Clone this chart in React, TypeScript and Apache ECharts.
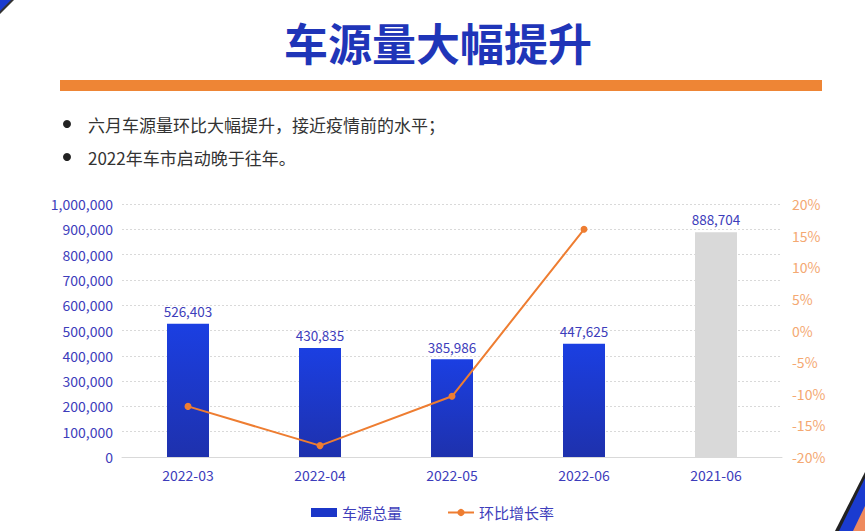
import React, { useEffect, useRef } from "react";
import * as echarts from "echarts";

const categories = ["2022-03", "2022-04", "2022-05", "2022-06", "2021-06"];
const volumes = [526403, 430835, 385986, 447625, 888704];
const momRates = [-12.0, -18.2, -10.4, 16.0, null];
const leftTicks = { min: 0, max: 1000000, interval: 100000 };
const rightTicks = { min: -20, max: 20, interval: 5 };
const titleText = "车源量大幅提升";
const bullets = ["六月车源量环比大幅提升，接近疫情前的水平；", "2022年车市启动晚于往年。"];
const seriesNames = ["车源总量", "环比增长率"];

const FONT = "'Noto Sans CJK SC', 'Noto Sans', sans-serif";
const LABEL_BLUE = "#3d3dbb";

export default function App() {
  const ref = useRef<HTMLDivElement>(null);
  useEffect(() => {
    document.body.style.margin = "0";
    const chart = echarts.init(ref.current!, null, { renderer: "svg" });
    const barGrad = new echarts.graphic.LinearGradient(0, 0, 0, 1, [
      { offset: 0, color: "#1b3fe2" },
      { offset: 1, color: "#1e31ad" },
    ]);
    const option: any = {
      animation: false,
      textStyle: { fontFamily: FONT },
      graphic: [
        { type: "polygon", shape: { points: [[0, 0], [14, 0], [0, 14]] }, style: { fill: "#333" } },
        { type: "polygon", shape: { points: [[0, 0], [11, 0], [0, 11]] }, style: { fill: "#1a3bd0" } },
        { type: "polygon", shape: { points: [[835, 531], [865, 472], [865, 531]] }, style: { fill: "#222" } },
        { type: "polygon", shape: { points: [[839, 531], [865, 478], [865, 531]] }, style: { fill: "#1a3bd0" } },
        { type: "polygon", shape: { points: [[853, 531], [865, 506], [865, 531]] }, style: { fill: "#ee8a5e" } },
        {
          type: "text", x: 438, y: 20,
          style: { text: titleText, fill: "#1f35b8", font: `bold 44px ${FONT}`, textAlign: "center" },
        },
        { type: "rect", shape: { x: 60, y: 80, width: 762, height: 11 }, style: { fill: "#ee8535" } },
        ...bullets.flatMap((b, i) => [
          { type: "circle", shape: { cx: 67, cy: 124 + i * 33, r: 4 }, style: { fill: "#222" } },
          {
            type: "text", x: 88, y: 124 + i * 33,
            style: { text: b, fill: "#333", font: `17px ${FONT}`, verticalAlign: "middle" },
          },
        ]),
      ],
      legend: {
        bottom: 6, left: "center", itemGap: 45, itemWidth: 26, itemHeight: 9,
        textStyle: { color: LABEL_BLUE, fontSize: 15, fontFamily: FONT },
        data: [
          { name: seriesNames[0], icon: "rect", itemStyle: { color: "#1b36c8" } },
          { name: seriesNames[1] },
        ],
      },
      grid: { left: 122, right: 83, top: 204, bottom: 74 },
      xAxis: {
        type: "category", data: categories,
        axisLine: { lineStyle: { color: "#d9d9d9", width: 1 } },
        axisTick: { show: false },
        axisLabel: { color: LABEL_BLUE, fontSize: 14, margin: 11, fontFamily: FONT },
      },
      yAxis: [
        {
          type: "value", ...leftTicks,
          axisLine: { show: false }, axisTick: { show: false },
          splitLine: { lineStyle: { color: "#d9d9d9", type: [2, 2] } },
          axisLabel: {
            color: LABEL_BLUE, fontSize: 14, margin: 9, fontFamily: FONT,
            formatter: (v: number) => v.toLocaleString("en-US"),
          },
        },
        {
          type: "value", ...rightTicks,
          axisLine: { show: false }, axisTick: { show: false },
          splitLine: { show: false },
          axisLabel: { color: "#f4a872", fontSize: 14, margin: 10, fontFamily: FONT, formatter: "{value}%" },
        },
      ],
      series: [
        {
          name: seriesNames[0], type: "bar", barWidth: 42, yAxisIndex: 0,
          data: volumes.map((v, i) => ({
            value: v,
            itemStyle: { color: i === volumes.length - 1 ? "#d9d9d9" : barGrad },
          })),
          label: {
            show: true, position: "top", distance: 6, color: LABEL_BLUE, fontSize: 13.5, fontFamily: FONT,
            formatter: (p: any) => Number(p.value).toLocaleString("en-US"),
          },
        },
        {
          name: seriesNames[1], type: "line", yAxisIndex: 1, data: momRates,
          symbol: "circle", symbolSize: 7, showSymbol: true,
          lineStyle: { color: "#ee7d31", width: 2 }, itemStyle: { color: "#ee7d31" },
        },
      ],
    };
    chart.setOption(option);
    return () => chart.dispose();
  }, []);
  return <div ref={ref} style={{ width: 865, height: 531, background: "#fff" }} />;
}
